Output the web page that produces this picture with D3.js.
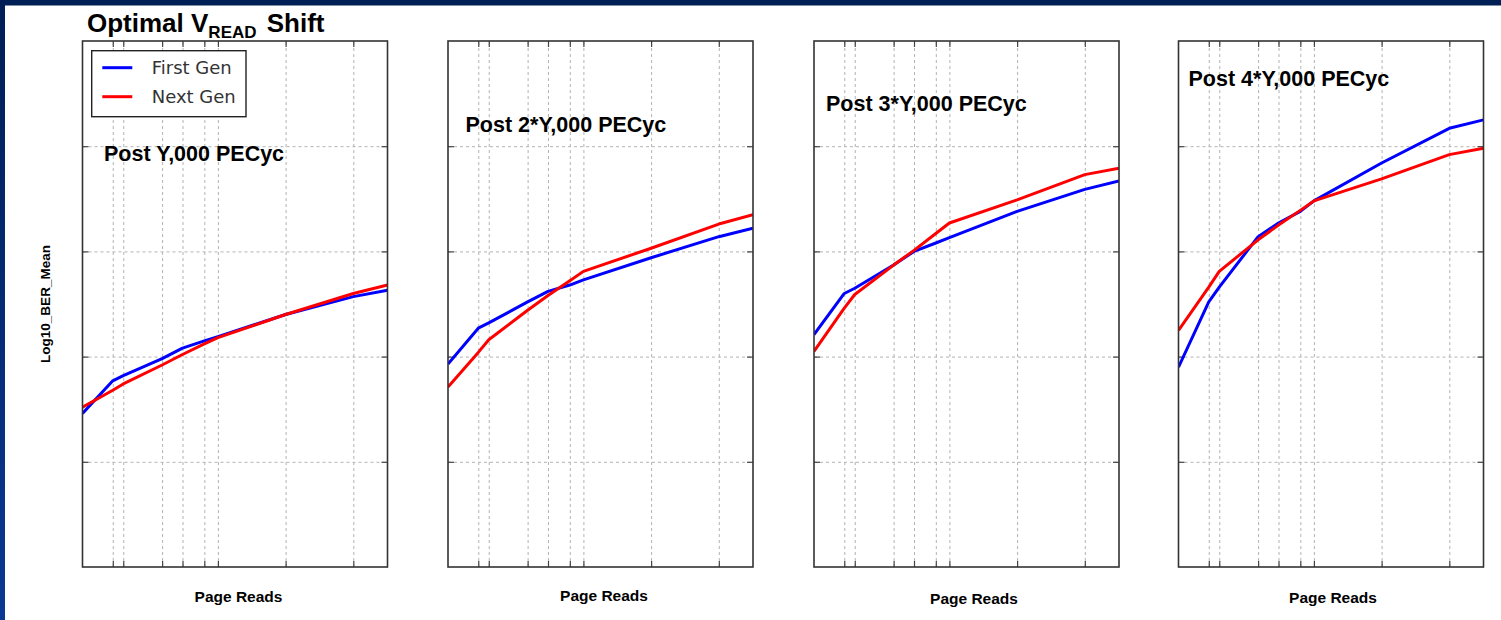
<!DOCTYPE html>
<html>
<head>
<meta charset="utf-8">
<script src="https://cdn.jsdelivr.net/npm/d3@7"></script>
<style>
  html, body { margin: 0; padding: 0; background: #ffffff; }
  svg { display: block; }
</style>
</head>
<body>
<svg id="chart" width="1501" height="620"></svg>
<script>
// ---------------- DATA ----------------
const pageReads = [100, 280, 400, 1500, 3000, 6300, 10000, 100000, 1000000, 3200000];
const xGridTicks = [280, 400, 1500, 3000, 6300, 10000, 100000, 1000000];
const yGridTicks = [-8, -7, -6, -5];
const yDomain = [-9, -4];
const xDomain = [100, 3200000];

const panelTitles = ["Post Y,000 PECyc", "Post 2*Y,000 PECyc", "Post 3*Y,000 PECyc", "Post 4*Y,000 PECyc"];
const seriesNames = ["First Gen", "Next Gen"];

const firstGenP1 = [-7.54, -7.23, -7.18, -7.02, -6.92, -6.85, -6.81, -6.60, -6.43, -6.37];
const nextGenP1  = [-7.48, -7.32, -7.26, -7.08, -6.98, -6.88, -6.82, -6.60, -6.40, -6.32];
const firstGenP2 = [-7.07, -6.73, -6.68, -6.48, -6.38, -6.32, -6.27, -6.06, -5.86, -5.78];
const nextGenP2  = [-7.29, -6.96, -6.84, -6.56, -6.42, -6.28, -6.19, -5.97, -5.74, -5.65];
const firstGenP3 = [-6.79, -6.40, -6.35, -6.13, -6.00, -5.92, -5.87, -5.62, -5.41, -5.33];
const nextGenP3  = [-6.95, -6.54, -6.41, -6.13, -5.99, -5.83, -5.73, -5.51, -5.27, -5.21];
const firstGenP4 = [-7.10, -6.48, -6.34, -5.86, -5.73, -5.62, -5.52, -5.16, -4.83, -4.75];
const nextGenP4  = [-6.75, -6.34, -6.19, -5.89, -5.75, -5.61, -5.52, -5.31, -5.08, -5.02];

const firstGen = [firstGenP1, firstGenP2, firstGenP3, firstGenP4];
const nextGen  = [nextGenP1, nextGenP2, nextGenP3, nextGenP4];

// ---------------- LAYOUT ----------------
const W = 1501, H = 620;
const panelLeft = [82.5, 448, 814, 1178.5];
const panelWidth = 305;
const panelTop = 41, panelBottom = 567;
const titleX = [21.5, 17.5, 12, 10];
const titleBaseline = [160.5, 131.5, 110.5, 86];
const xLabelDx = [3.5, 3.5, 7.5, 2];
const xLabelBaseline = [602, 600.5, 603.5, 603];
const seriesColors = ["#0000ff", "#ff0000"];
const FONT = "'Liberation Sans', Arial, Helvetica, sans-serif";

const svg = d3.select("#chart");

// frame
const defs = svg.append("defs");
const grad = defs.append("linearGradient").attr("id", "leftbar").attr("x1", 0).attr("y1", 0).attr("x2", 0).attr("y2", 1);
grad.append("stop").attr("offset", "0%").attr("stop-color", "#001e55");
grad.append("stop").attr("offset", "100%").attr("stop-color", "#0b3894");
svg.append("rect").attr("x", 0).attr("y", 0).attr("width", W).attr("height", H).attr("fill", "#ffffff");
svg.append("rect").attr("x", 0).attr("y", 0).attr("width", W).attr("height", 5.5).attr("fill", "#001f54");
svg.append("rect").attr("x", 0).attr("y", 0).attr("width", 5).attr("height", H).attr("fill", "url(#leftbar)");

// title
const title = svg.append("text")
  .attr("x", 87).attr("y", 32)
  .attr("font-family", FONT).attr("font-weight", "bold").attr("font-size", 26).attr("fill", "#000");
title.append("tspan").text("Optimal V");
title.append("tspan").attr("font-size", 17).attr("dy", 5.5).text("READ");
title.append("tspan").attr("dy", -5.5).attr("dx", 3).text(" Shift");

// y axis label
svg.append("text")
  .attr("transform", "translate(49.5,304) rotate(-90)")
  .attr("text-anchor", "middle")
  .attr("font-family", FONT).attr("font-weight", "bold").attr("font-size", 13.5).attr("fill", "#000")
  .text("Log10_BER_Mean");

panelTitles.forEach((pt, i) => {
  const x0 = panelLeft[i];
  const g = svg.append("g").attr("transform", `translate(${x0},0)`);
  const x = d3.scaleLog().domain(xDomain).range([0, panelWidth]);
  const y = d3.scaleLinear().domain(yDomain).range([panelBottom, panelTop]);

  // grid (dashed)
  const gridX = d3.axisBottom(x).tickValues(xGridTicks).tickSize(-(panelBottom - panelTop)).tickFormat("");
  g.append("g").attr("transform", `translate(0,${panelBottom})`).call(gridX)
    .call(s => s.select(".domain").remove())
    .call(s => s.selectAll("line").attr("stroke", "#b3b3b3").attr("stroke-dasharray", "3,3").attr("stroke-width", 1));
  const gridY = d3.axisLeft(y).tickValues(yGridTicks).tickSize(-panelWidth).tickFormat("");
  g.append("g").call(gridY)
    .call(s => s.select(".domain").remove())
    .call(s => s.selectAll("line").attr("stroke", "#b3b3b3").attr("stroke-dasharray", "3,3").attr("stroke-width", 1));

  // tick marks on all four sides (inward)
  const tl = 6;
  const tickStyle = s => s.call(t => t.select(".domain").remove())
    .call(t => t.selectAll("line").attr("stroke", "#444").attr("stroke-width", 1.2));
  g.append("g").attr("transform", `translate(0,${panelBottom})`)
    .call(d3.axisBottom(x).tickValues(xGridTicks).tickSize(-tl).tickFormat("")).call(tickStyle);
  g.append("g").attr("transform", `translate(0,${panelTop})`)
    .call(d3.axisTop(x).tickValues(xGridTicks).tickSize(-tl).tickFormat("")).call(tickStyle);
  g.append("g")
    .call(d3.axisLeft(y).tickValues(yGridTicks).tickSize(-tl).tickFormat("")).call(tickStyle);
  g.append("g").attr("transform", `translate(${panelWidth},0)`)
    .call(d3.axisRight(y).tickValues(yGridTicks).tickSize(-tl).tickFormat("")).call(tickStyle);

  // lines (clip in the panel's own coordinates)
  const clipId = "clip" + i;
  defs.append("clipPath").attr("id", clipId).append("rect")
    .attr("x", 0).attr("y", panelTop).attr("width", panelWidth).attr("height", panelBottom - panelTop);
  const line = d3.line().x(d => x(d[0])).y(d => y(d[1]));
  [firstGen[i], nextGen[i]].forEach((vals, k) => {
    const pts = pageReads.map((p, j) => [p, vals[j]]);
    g.append("path").datum(pts)
      .attr("d", line)
      .attr("fill", "none")
      .attr("stroke", seriesColors[k])
      .attr("stroke-width", 3)
      .attr("stroke-linejoin", "round")
      .attr("clip-path", `url(#${clipId})`);
  });

  // frame
  g.append("rect").attr("x", 0).attr("y", panelTop).attr("width", panelWidth).attr("height", panelBottom - panelTop)
    .attr("fill", "none").attr("stroke", "#333").attr("stroke-width", 1.6);

  // panel title
  g.append("text").attr("x", titleX[i])
    .attr("y", titleBaseline[i])
    .attr("font-family", FONT).attr("font-weight", "bold").attr("font-size", 21.5).attr("fill", "#000")
    .text(pt);

  // x label
  g.append("text").attr("x", panelWidth / 2 + xLabelDx[i]).attr("y", xLabelBaseline[i])
    .attr("text-anchor", "middle")
    .attr("font-family", FONT).attr("font-weight", "bold").attr("font-size", 15.5).attr("fill", "#000")
    .text("Page Reads");

  // legend in first panel
  if (i === 0) {
    const lg = g.append("g");
    lg.append("rect").attr("x", 9.2).attr("y", 50.7).attr("width", 154.3).attr("height", 66)
      .attr("fill", "#fff").attr("stroke", "#222").attr("stroke-width", 1.4);
    seriesNames.forEach((name, k) => {
      const ly = 67.7 + k * 29;
      lg.append("line").attr("x1", 19.8).attr("x2", 49.8).attr("y1", ly).attr("y2", ly)
        .attr("stroke", seriesColors[k]).attr("stroke-width", 3);
      lg.append("text").attr("x", 69.2).attr("y", ly + 5.8)
        .attr("font-family", "'DejaVu Sans', sans-serif").attr("font-size", 18).attr("fill", "#333")
        .text(name);
    });
  }
});
</script>
</body>
</html>
